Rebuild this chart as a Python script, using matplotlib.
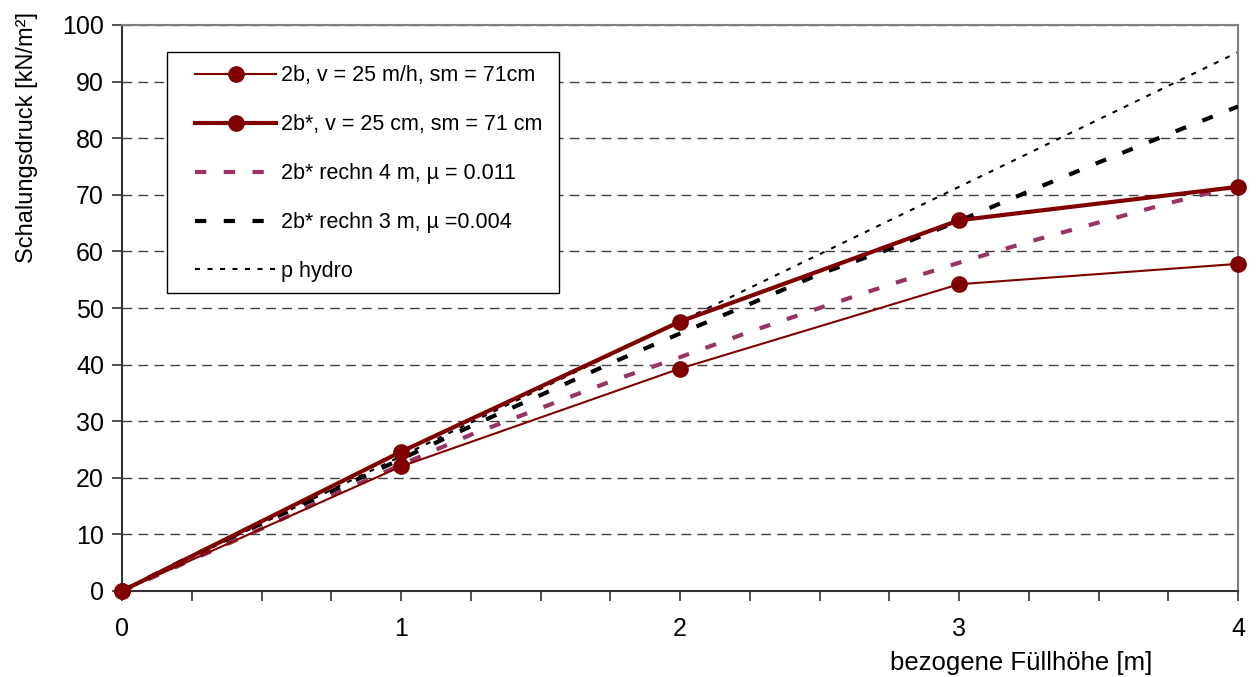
import matplotlib
matplotlib.use("Agg")
import matplotlib.pyplot as plt
from matplotlib.lines import Line2D
from matplotlib.legend_handler import HandlerLine2D
from matplotlib.patches import Rectangle
from matplotlib.ticker import MultipleLocator

plt.rcParams["font.family"] = ["Liberation Sans", "DejaVu Sans"]

# measured points (Fuellhoehe in m)
x_meas = [0, 1, 2, 3, 4]
p_2b = [0, 22.0, 39.3, 54.2, 57.8]
p_2b_star = [0, 24.6, 47.6, 65.5, 71.4]
p_hydro = [0, 23.8, 47.6, 71.4, 95.2]

# calculated curves
x_calc = [0, 0.25, 0.5, 0.75, 1, 1.25, 1.5, 1.75, 2, 2.25, 2.5, 2.75, 3, 3.25, 3.5, 3.75, 4]
p_rechn4 = [0, 5.5, 11.0, 16.8, 22.3, 27.6, 32.3, 37.0, 41.3, 45.8, 50.0, 54.1, 58.0, 61.7, 65.1, 68.5, 71.6]
p_rechn3 = [0, 6.2, 11.9, 17.6, 23.3, 29.1, 34.6, 40.2, 45.5, 50.7, 56.0, 60.4, 65.4, 70.6, 75.7, 80.7, 85.6]

labels = [
    "2b, v = 25 m/h, sm = 71cm",
    "2b*, v = 25 cm, sm = 71 cm",
    "2b* rechn 4 m, µ = 0.011",
    "2b* rechn 3 m, µ =0.004",
    "p hydro",
]

dark_red = "#800000"
purple = "#993366"

fig = plt.figure(figsize=(12.58, 6.77), dpi=100)
ax = fig.add_axes([122 / 1258, 86 / 677, 1116 / 1258, 566 / 677])

ax.plot(x_meas, p_2b, color=dark_red, lw=1.5, marker="o", ms=11, label=labels[0],
        clip_on=False, zorder=5)
ax.plot(x_meas, p_2b_star, color=dark_red, lw=3, marker="o", ms=11, label=labels[1],
        clip_on=False, zorder=6)
ax.plot(x_calc, p_rechn4, color=purple, lw=3, dashes=(2.7, 4.2), label=labels[2], zorder=3)
ax.plot(x_calc, p_rechn3, color="black", lw=3, dashes=(2.7, 4.2), label=labels[3], zorder=4)
ax.plot(x_meas, p_hydro, color="black", lw=1.5, dashes=(2.4, 3.6), label=labels[4], zorder=2)

ax.set_xlim(0, 4)
ax.set_ylim(0, 100)
ax.xaxis.set_major_locator(MultipleLocator(1))
ax.xaxis.set_minor_locator(MultipleLocator(0.25))
ax.yaxis.set_major_locator(MultipleLocator(10))
ax.tick_params(axis="both", which="both", direction="out", length=7, width=1.2,
               color="#333333", labelsize=18)
ax.tick_params(axis="x", pad=12)
ax.tick_params(axis="y", pad=6)

ax.yaxis.grid(True, color="#404040", lw=1, linestyle=(0, (7, 4.5)))
ax.set_axisbelow(True)

for side in ["left", "bottom"]:
    ax.spines[side].set_color("#333333")
    ax.spines[side].set_linewidth(1.5)
for side in ["top", "right"]:
    ax.spines[side].set_color("#808080")
    ax.spines[side].set_linewidth(1.5)

ax.set_ylabel("Schalungsdruck [kN/m²]", fontsize=17, va="center")
ax.yaxis.set_label_coords(-0.085, 0.802)
ax.set_xlabel("bezogene Füllhöhe [m]", fontsize=18.5, va="center")
ax.xaxis.set_label_coords(0.806, -0.127)

# legend frame drawn separately (Excel-like, wider right padding)
frame = Rectangle((0.040, 0.527), 0.352, 0.425, transform=ax.transAxes,
                  facecolor="white", edgecolor="black", lw=1.0, zorder=9)
ax.add_patch(frame)
leg = ax.legend(loc="upper left", bbox_to_anchor=(0.040, 0.952), borderaxespad=0,
                fontsize=15.5, handlelength=4.5, handletextpad=0.2, labelspacing=1.3,
                borderpad=0.6, frameon=False,
                handler_map={Line2D: HandlerLine2D(xpad=0.7)})
leg.set_zorder(10)

fig.savefig("out.png", dpi=100)
